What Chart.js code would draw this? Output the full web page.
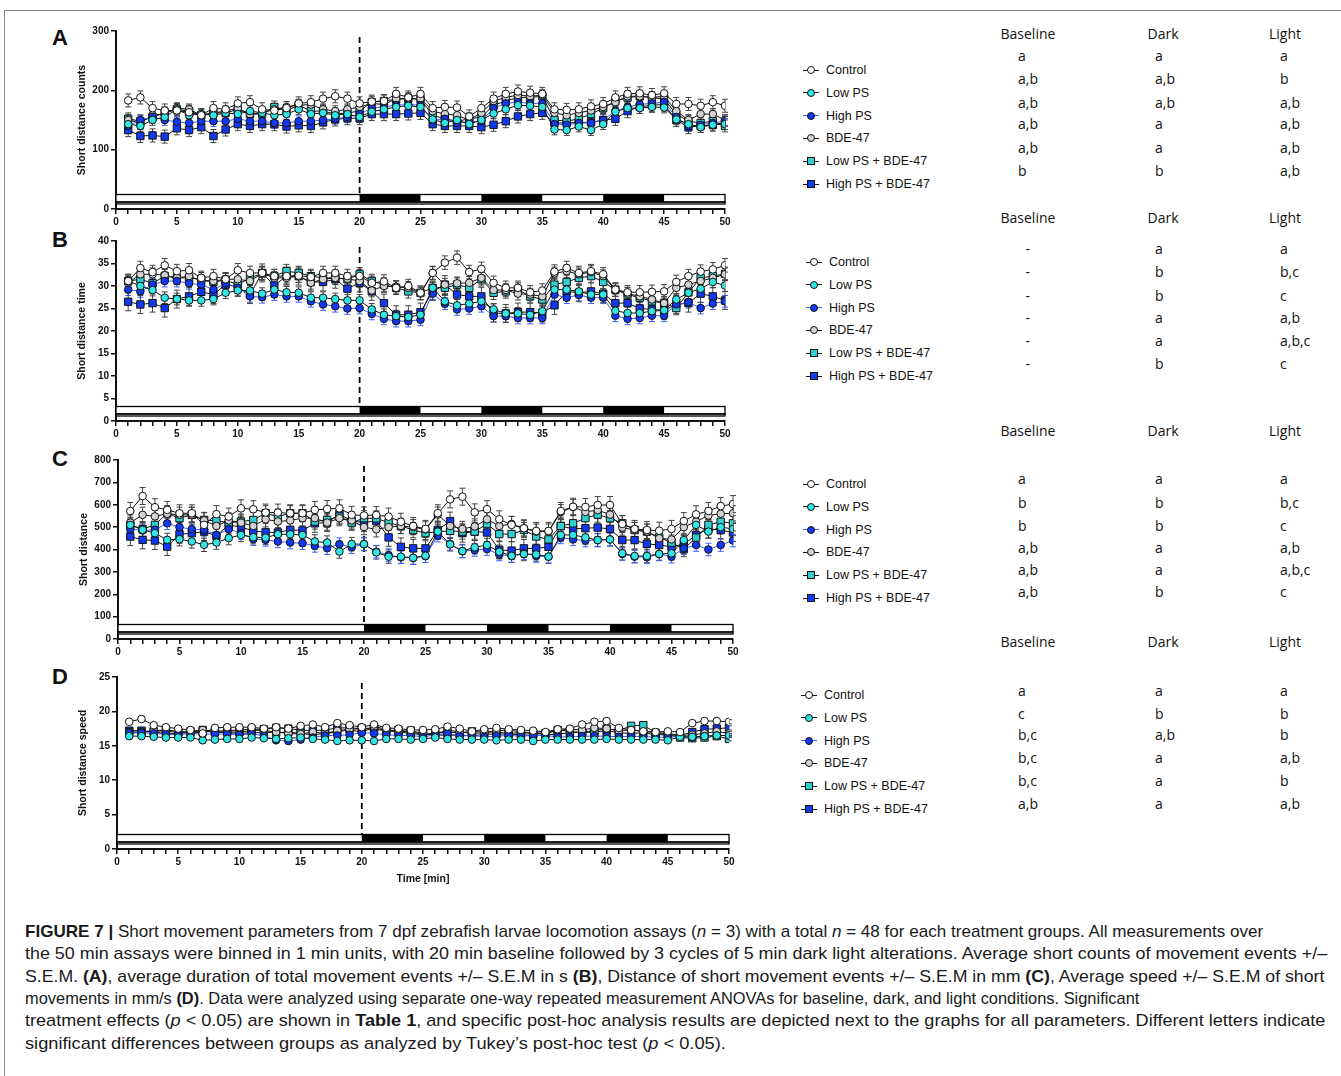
<!DOCTYPE html>
<html>
<head>
<meta charset="utf-8">
<script src="https://cdn.jsdelivr.net/npm/chart.js@4.4.1/dist/chart.umd.min.js"></script>
<style>
  html, body { margin: 0; padding: 0; background: #fff; }
  body { width: 1341px; height: 1076px; position: relative; overflow: hidden; font-family: "Liberation Sans", Arial, sans-serif; color: #111; }
  #frame { position: absolute; left: 4px; top: 10px; right: -2px; bottom: -2px; border-top: 1.5px solid #8a8a8a; border-left: 1.5px solid #8a8a8a; }
  canvas { position: absolute; }
  .plabel { position: absolute; font: bold 22px "Liberation Sans", Arial, sans-serif; line-height: 22px; }
  .legrow { position: absolute; font: 12.5px "Liberation Sans", Arial, sans-serif; line-height: 14px; height: 14px; white-space: nowrap; }
  .icon { position: relative; display: inline-block; width: 16px; height: 14px; vertical-align: top; margin-right: 7px; }
  .ln { position: absolute; left: 0; top: 6.5px; width: 16px; height: 1px; }
  .mk { position: absolute; left: 4px; top: 3px; width: 6px; height: 6px; border: 1px solid #111; }
  .tab { position: absolute; font: 14px "Open Sans", sans-serif; line-height: 18px; white-space: nowrap; }
  .cap { position: absolute; left: 25px; font: 17px "Liberation Sans", Arial, sans-serif; line-height: 20px; white-space: nowrap; transform-origin: 0 50%; color: #1a1a1a; }
</style>
</head>
<body>
<div id="frame"></div>

<canvas id="chartA" width="665" height="210" style="left:72px;top:21px"></canvas>
<canvas id="chartB" width="665" height="212" style="left:72px;top:231px"></canvas>
<canvas id="chartC" width="671" height="211" style="left:74px;top:450px"></canvas>
<canvas id="chartD" width="668" height="222" style="left:73px;top:667px"></canvas>

<div class="plabel" style="left:52px;top:27px">A</div>
<div class="plabel" style="left:52px;top:229px">B</div>
<div class="plabel" style="left:52px;top:448px">C</div>
<div class="plabel" style="left:52px;top:666px">D</div>

<div id="caption">
  <div class="cap" data-right="1263" style="top:922px"><b>FIGURE 7 |</b> Short movement parameters from 7 dpf zebrafish larvae locomotion assays (<i>n</i> = 3) with a total <i>n</i> = 48 for each treatment groups. All measurements over</div>
  <div class="cap" data-right="1327" style="top:944px">the 50 min assays were binned in 1 min units, with 20 min baseline followed by 3 cycles of 5 min dark light alterations. Average short counts of movement events +/–</div>
  <div class="cap" data-right="1324" style="top:967px">S.E.M. <b>(A)</b>, average duration of total movement events +/– S.E.M in s <b>(B)</b>, Distance of short movement events +/– S.E.M in mm <b>(C)</b>, Average speed +/– S.E.M of short</div>
  <div class="cap" data-right="1139" style="top:989px">movements in mm/s <b>(D)</b>. Data were analyzed using separate one-way repeated measurement ANOVAs for baseline, dark, and light conditions. Significant</div>
  <div class="cap" data-right="1325" style="top:1011px">treatment effects (<i>p</i> &lt; 0.05) are shown in <b>Table 1</b>, and specific post-hoc analysis results are depicted next to the graphs for all parameters. Different letters indicate</div>
  <div class="cap" data-right="726" style="top:1034px">significant differences between groups as analyzed by Tukey’s post-hoc test (<i>p</i> &lt; 0.05).</div>
</div>

<script>
// time bins (min)
const minutes = [1,2,3,4,5,6,7,8,9,10,11,12,13,14,15,16,17,18,19,20,21,22,23,24,25,
                 26,27,28,29,30,31,32,33,34,35,36,37,38,39,40,41,42,43,44,45,46,47,48,49,50];
const darkPeriods = [[20, 25], [30, 35], [40, 45]];

const groupNames = ['Control', 'Low PS', 'High PS', 'BDE-47', 'Low PS + BDE-47', 'High PS + BDE-47'];

// A - short distance counts
const aControl = [183,188,170,166,166,163,158,170,168,178,180,168,166,170,178,180,186,190,186,178, 181,182,194,188,194, 170,172,171,156,170, 186,194,198,196,194, 168,167,168,173,177, 188,194,195,192,195, 177,177,174,180,174];
const aLow     = [143,140,150,155,168,158,160,158,162,160,165,162,158,160,168,160,162,158,160,155, 164,168,172,174,172, 151,145,150,143,150, 161,168,175,174,172, 134,133,139,133,143, 164,170,170,172,171, 151,143,138,142,143];
const aHigh    = [140,150,155,150,147,145,148,148,148,152,148,148,145,145,148,148,150,152,155,160, 170,172,175,176,175, 150,152,145,147,148, 170,178,180,178,178, 143,142,145,145,150, 165,172,176,178,180, 155,140,142,145,148];
const aBde     = [150,145,158,160,170,168,158,162,165,170,160,162,168,172,175,176,168,165,168,172, 178,176,186,186,186, 165,160,158,150,162, 182,188,192,190,192, 162,158,162,166,172, 180,190,190,188,190, 165,150,160,160,150];
const aLowBde  = [152,148,155,162,168,165,158,162,162,168,160,160,172,166,175,165,165,160,162,165, 180,182,185,186,185, 158,152,148,152,155, 175,182,188,188,190, 150,148,152,160,170, 182,188,190,188,185, 160,148,145,148,140];
const aHighBde = [133,123,124,122,136,133,138,123,134,143,140,143,143,139,141,140,146,151,153,153, 160,160,160,161,162, 143,140,140,140,138, 142,148,156,160,162, 145,145,146,146,150, 152,165,172,175,176, 150,138,140,142,145];
const aSem     = [11, 9, 9, 9, 10, 11];

// B - short distance time
const bControl = [31.1,34.0,33.1,34.6,33.3,33.5,31.8,32.2,31.5,33.5,32.9,32.9,32.2,32.2,32.3,32.0,32.9,32.9,32.2,32.2, 30.7,31.0,29.6,30.0,28.5, 32.9,35.2,36.3,33.1,33.8, 30.7,29.6,29.6,28.6,29.0, 33.2,34.0,32.9,33.3,32.6, 29.2,28.6,28.6,28.7,28.8, 30.9,32.2,33.2,33.7,34.6];
const bLow     = [31.1,30.0,29.1,27.4,27.1,26.8,26.8,27.1,28.5,29.0,29.0,28.3,29.2,28.6,28.5,27.4,27.4,27.1,26.8,26.8, 24.8,23.6,23.3,23.1,23.6, 29.6,26.6,25.7,26.1,26.6, 24.8,23.9,23.9,23.6,24.4, 29.2,29.2,28.8,28.1,28.1, 24.5,24.0,24.0,24.4,24.6, 27.0,28.5,29.4,30.9,30.1];
const bHigh    = [29.2,28.8,30.3,31.1,31.1,30.6,30.3,29.2,30.6,29.6,27.7,27.5,28.1,27.7,27.7,26.6,25.9,25.5,25.0,25.1, 23.8,22.7,22.2,22.2,22.5, 28.3,26.1,24.8,25.0,25.5, 23.3,23.3,22.9,22.9,22.9, 28.1,27.4,28.0,27.4,27.4, 23.4,22.7,22.9,23.4,23.4, 25.9,26.4,25.1,26.1,26.6];
const bBde     = [30.7,32.6,32.6,32.4,31.8,32.2,31.1,31.1,31.5,31.5,31.1,32.8,31.8,31.8,32.2,30.7,31.5,31.8,31.6,31.1, 29.0,30.0,29.8,29.6,28.3, 32.9,30.3,30.6,30.7,31.8, 29.1,29.1,28.3,28.1,27.7, 32.8,33.3,32.6,33.1,32.2, 29.1,28.3,27.7,27.0,26.2, 29.6,30.3,31.1,31.8,32.6];
const bLowBde  = [31.1,31.5,30.6,32.2,31.8,31.8,31.5,30.9,31.3,30.3,31.8,32.8,32.2,33.3,32.9,32.2,31.8,31.8,31.5,32.6, 31.1,30.3,29.6,28.8,28.5, 29.6,29.6,30.3,29.6,31.5, 28.5,28.8,29.2,27.7,27.0, 30.3,30.9,31.8,32.2,30.9, 29.2,28.1,27.4,26.6,26.2, 25.1,28.6,31.8,32.2,32.7];
const bHighBde = [26.5,25.9,26.2,25.1,27.1,27.7,28.7,28.1,30.3,29.8,28.1,32.9,30.1,32.2,32.2,30.9,30.9,31.5,29.4,30.7, 28.8,26.2,23.6,23.6,24.2, 28.8,30.3,28.1,27.7,27.7, 24.0,23.9,24.2,24.2,24.0, 25.7,28.8,28.5,28.8,28.3, 26.2,26.2,25.0,24.8,24.6, 25.9,26.2,28.3,27.7,26.8];
const bSem     = [1.5, 1.3, 1.3, 1.4, 1.5, 2.0];

// C - short distance
const cControl = [572,639,589,577,562,562,510,558,547,584,580,565,565,562,562,577,581,584,555,552, 554,547,524,505,492, 562,624,636,566,580, 535,510,495,483,483, 572,591,590,599,599, 514,492,487,484,492, 527,557,572,594,603];
const cLow     = [510,488,473,443,446,436,421,431,451,465,455,453,468,468,465,436,431,391,424,424, 387,368,368,363,372, 480,423,393,410,420, 390,372,380,378,368, 465,465,454,442,445, 383,371,371,380,383, 442,510,480,500,492];
const cHigh    = [491,485,488,517,500,491,488,465,491,473,446,443,436,431,428,416,406,424,410,424, 390,375,365,362,370, 462,425,392,398,402, 378,371,383,371,368, 454,445,440,442,445, 380,368,365,380,368, 405,420,400,420,440];
const cBde     = [520,555,548,560,555,555,530,505,530,520,505,535,525,530,540,540,520,540,530,500, 490,500,505,500,490, 556,505,492,503,535, 505,514,495,480,480, 567,590,568,576,556, 498,487,480,450,445, 500,525,552,560,562];
const cLowBde  = [510,491,510,562,540,555,532,528,520,525,532,562,547,562,562,525,532,547,520,540, 539,520,505,487,473, 480,483,480,480,514, 469,469,487,458,445, 505,517,540,556,540, 517,487,480,454,431, 402,453,510,524,517];
const cHighBde = [458,443,440,413,468,473,480,461,510,500,483,477,476,488,485,517,520,558,528,520, 529,454,412,405,405, 487,527,473,480,476, 398,395,405,405,412, 505,492,495,498,492, 442,442,425,420,412, 423,465,492,487,476];
const cSem     = [38, 30, 28, 34, 34, 40];

// D - short distance speed
const dControl = [18.5,18.9,18.0,17.7,17.5,17.3,16.8,17.6,17.7,17.7,17.7,17.5,17.7,17.5,17.9,18.1,17.7,18.3,18.0,17.7, 18.1,17.6,17.5,17.3,17.3, 17.4,17.8,17.5,17.1,17.4, 17.6,17.4,17.3,17.2,17.0, 17.4,17.5,18.1,18.5,18.6, 17.6,17.3,17.1,17.0,17.1, 17.0,18.3,18.6,18.6,18.5];
const dLow     = [16.4,16.4,16.3,16.2,16.2,16.2,15.8,15.9,16.0,16.0,16.2,16.1,16.0,16.1,16.2,16.0,15.9,15.7,15.8,15.8, 15.7,16.0,16.0,15.9,16.0, 16.2,16.0,15.9,15.9,15.9, 15.8,15.9,15.9,15.7,15.9, 15.9,15.9,15.9,15.9,16.0, 15.9,15.9,15.9,15.9,15.8, 16.3,16.3,16.4,16.5,16.5];
const dHigh    = [16.9,16.9,16.8,16.7,16.6,16.8,16.7,16.7,16.7,16.6,16.7,16.5,15.8,15.7,15.9,16.2,16.5,16.5,16.6,16.9, 16.8,16.6,16.5,16.5,16.3, 16.6,16.8,16.4,16.5,16.3, 16.4,16.5,16.4,16.5,16.5, 16.3,16.3,16.4,16.4,16.4, 16.3,16.4,16.3,16.3,16.2, 16.4,16.2,16.4,16.5,16.5];
const dBde     = [16.8,17.0,17.2,17.3,17.1,17.0,17.3,17.0,16.9,16.8,16.9,16.9,17.0,16.8,16.7,17.0,16.8,17.2,17.4,16.9, 17.8,17.4,17.0,16.8,16.6, 16.7,17.3,17.0,16.8,16.9, 17.2,17.3,17.0,16.9,16.8, 17.2,17.4,17.3,17.6,17.5, 17.2,17.3,17.1,16.9,16.8, 16.5,16.6,16.8,17.1,16.8];
const dLowBde  = [17.0,17.0,17.1,17.2,16.9,17.1,17.3,17.0,17.0,17.0,17.2,17.3,16.9,17.0,16.8,16.6,16.8,17.0,17.4,17.5, 17.6,17.2,17.0,17.2,16.8, 16.6,16.5,16.6,16.4,16.7, 16.7,16.7,16.6,16.5,16.6, 16.7,16.9,17.0,17.2,17.5, 17.2,17.9,18.0,16.9,16.6, 16.2,16.1,16.2,16.4,16.0];
const dHighBde = [17.2,17.2,17.0,16.8,16.8,16.9,17.0,17.1,17.2,17.3,17.4,17.4,17.6,17.5,17.3,17.2,17.3,17.6,17.6,17.5, 17.4,17.2,17.3,17.0,16.7, 16.8,17.0,16.9,17.1,17.0, 17.0,16.8,16.9,16.8,16.8, 17.3,17.1,16.9,17.0,17.2, 16.9,16.8,16.9,16.6,16.6, 16.5,17.0,17.4,17.5,17.6];
const dSem     = [0.3, 0.25, 0.25, 0.3, 0.3, 0.3];

// post-hoc letters (rows follow groupNames)
const aBaseline = ['a', 'a,b', 'a,b', 'a,b', 'a,b', 'b'];
const aDark     = ['a', 'a,b', 'a,b', 'a', 'a', 'b'];
const aLight    = ['a', 'b', 'a,b', 'a,b', 'a,b', 'a,b'];
const bBaseline = ['-', '-', '-', '-', '-', '-'];
const bDark     = ['a', 'b', 'b', 'a', 'a', 'b'];
const bLight    = ['a', 'b,c', 'c', 'a,b', 'a,b,c', 'c'];
const cBaseline = ['a', 'b', 'b', 'a,b', 'a,b', 'a,b'];
const cDark     = ['a', 'b', 'b', 'a', 'a', 'b'];
const cLight    = ['a', 'b,c', 'c', 'a,b', 'a,b,c', 'c'];
const dBaseline = ['a', 'c', 'b,c', 'b,c', 'b,c', 'a,b'];
const dDark     = ['a', 'b', 'a,b', 'a', 'a', 'a'];
const dLight    = ['a', 'b', 'b', 'a,b', 'b', 'a,b'];

// look of each group
const CYAN = '#33e6e6', BLUE = '#1238f0';
const styles = [
  { fill: '#ffffff', line: '#111111', err: '#444', shape: 'circle' },
  { fill: CYAN,      line: '#111111', err: '#444', shape: 'circle' },
  { fill: BLUE,      line: '#3d5fff', err: '#3d5fff', shape: 'circle' },
  { fill: '#d2d2d2', line: '#111111', err: '#444', shape: 'circle' },
  { fill: '#2fcfcf', line: '#111111', err: '#444', shape: 'rect' },
  { fill: BLUE,      line: '#111111', err: '#444', shape: 'rect' }
];

Chart.defaults.font.family = '"Liberation Sans", Arial, sans-serif';
Chart.defaults.color = '#111';

// error bars, light/dark bar and the dashed line at 20 min
const extras = {
  id: 'extras',
  beforeDatasetsDraw(chart) {
    const ctx = chart.ctx, x = chart.scales.x, y = chart.scales.y, area = chart.chartArea;
    ctx.save();
    // light / dark bar
    const top = area.bottom - 14.5, mid = area.bottom - 7, bot = area.bottom - 5;
    const x0 = x.getPixelForValue(0), x1 = x.getPixelForValue(50);
    ctx.fillStyle = '#fff';
    ctx.fillRect(x0, top, x1 - x0, bot - top);
    ctx.fillStyle = '#000';
    darkPeriods.forEach(p => {
      const a = x.getPixelForValue(p[0]), b = x.getPixelForValue(p[1]);
      ctx.fillRect(a, top, b - a, mid - top);
    });
    ctx.strokeStyle = '#000';
    ctx.lineWidth = 1.3;
    ctx.strokeRect(x0, top, x1 - x0, mid - top);
    ctx.strokeRect(x0, mid, x1 - x0, bot - mid);
    // dashed line at the end of baseline
    ctx.setLineDash([6, 4]);
    ctx.lineWidth = 1.8;
    ctx.beginPath();
    const xd = x.getPixelForValue(20);
    ctx.moveTo(xd, area.top + 6);
    ctx.lineTo(xd, top);
    ctx.stroke();
    ctx.setLineDash([]);
    // error bars
    ctx.lineWidth = 1;
    chart.data.datasets.forEach(ds => {
      ctx.strokeStyle = ds.errColor;
      ds.data.forEach(pt => {
        const px = x.getPixelForValue(pt.x);
        const hi = y.getPixelForValue(pt.y + ds.sem), lo = y.getPixelForValue(pt.y - ds.sem);
        ctx.beginPath();
        ctx.moveTo(px, hi); ctx.lineTo(px, lo);
        ctx.moveTo(px - 3, hi); ctx.lineTo(px + 3, hi);
        ctx.moveTo(px - 3, lo); ctx.lineTo(px + 3, lo);
        ctx.stroke();
      });
    });
    ctx.restore();
  }
};

function makeChart(id, series, sem, yMax, yStep, yTitle, xTitle, xHeight) {
  const datasets = series.map((vals, i) => ({
    label: groupNames[i],
    data: vals.map((v, j) => ({ x: minutes[j], y: v })),
    sem: sem[i],
    errColor: styles[i].err,
    borderColor: styles[i].line,
    borderWidth: 1,
    backgroundColor: styles[i].fill,
    pointBackgroundColor: styles[i].fill,
    pointBorderColor: '#111',
    pointBorderWidth: 1,
    pointStyle: styles[i].shape,
    pointRadius: styles[i].shape === 'rect' ? 5.2 : 3.8,
    tension: 0
  }));
  const tickFont = { size: 10, weight: 'bold' };
  return new Chart(document.getElementById(id), {
    type: 'line',
    data: { datasets },
    plugins: [extras],
    options: {
      responsive: false,
      animation: false,
      devicePixelRatio: 1,
      layout: { padding: { top: 10, right: 12, left: 0, bottom: 0 } },
      plugins: { legend: { display: false }, tooltip: { enabled: false } },
      scales: {
        x: {
          type: 'linear', min: 0, max: 50,
          ticks: { stepSize: 1, autoSkip: false, maxRotation: 0, padding: 2, font: tickFont, color: '#111',
                   callback: v => (v % 5 === 0 ? v : '') },
          grid: { drawOnChartArea: false, drawTicks: true, tickLength: 5, color: '#111', lineWidth: 1.5 },
          border: { display: true, color: '#111', width: 2 },
          title: { display: !!xTitle, text: xTitle, font: { size: 10.5, weight: 'bold' }, color: '#111', padding: { top: 4, bottom: 4 } },
          afterFit: s => { s.height = xHeight; }
        },
        y: {
          min: 0, max: yMax,
          ticks: { stepSize: yStep, padding: 2, font: tickFont, color: '#111' },
          grid: { drawOnChartArea: false, drawTicks: true, tickLength: 5, color: '#111', lineWidth: 1.5 },
          border: { display: true, color: '#111', width: 2 },
          title: { display: true, text: yTitle, font: { size: 10.5, weight: 'bold' }, color: '#111', padding: { top: 4, bottom: 4 } },
          afterFit: s => { s.width = 44; }
        }
      }
    }
  });
}

makeChart('chartA', [aControl, aLow, aHigh, aBde, aLowBde, aHighBde], aSem, 300, 100, 'Short distance counts', '', 22);
makeChart('chartB', [bControl, bLow, bHigh, bBde, bLowBde, bHighBde], bSem, 40, 5, 'Short distance time', '', 22);
makeChart('chartC', [cControl, cLow, cHigh, cBde, cLowBde, cHighBde], cSem, 800, 100, 'Short distance', '', 22);
makeChart('chartD', [dControl, dLow, dHigh, dBde, dLowBde, dHighBde], dSem, 25, 5, 'Short distance speed', 'Time [min]', 40);

// legends
const legendPos = [[803, 70], [806, 262], [803, 484], [801, 695]];
legendPos.forEach(([lx, ly]) => {
  groupNames.forEach((name, i) => {
    const row = document.createElement('div');
    row.className = 'legrow';
    row.style.left = lx + 'px';
    row.style.top = (ly + i * 22.8 - 7) + 'px';
    const s = styles[i];
    row.innerHTML = '<span class="icon"><span class="ln" style="background:' + s.line + '"></span>' +
      '<span class="mk" style="background:' + s.fill + ';border-radius:' + (s.shape === 'circle' ? '50%' : '0') + '"></span></span>' + name;
    document.body.appendChild(row);
  });
});

// post-hoc letter tables
const tables = [
  { head: 34,  rows: [57, 80, 104, 125, 149, 172], cols: [aBaseline, aDark, aLight] },
  { head: 218, rows: [250, 273, 297, 319, 342, 365], cols: [bBaseline, bDark, bLight] },
  { head: 431, rows: [480, 504, 527, 549, 571, 593], cols: [cBaseline, cDark, cLight] },
  { head: 642, rows: [692, 715, 736, 759, 782, 805], cols: [dBaseline, dDark, dLight] }
];
const colHeads = ['Baseline', 'Dark', 'Light'];
const colCenter = [1028, 1163, 1285];
const colLeft = [1018, 1155, 1280];
tables.forEach(t => {
  colHeads.forEach((h, c) => {
    const el = document.createElement('div');
    el.className = 'tab';
    el.textContent = h;
    el.style.top = (t.head - 9) + 'px';
    document.body.appendChild(el);
    el.style.left = (colCenter[c] - el.offsetWidth / 2) + 'px';
    t.cols[c].forEach((txt, r) => {
      const cell = document.createElement('div');
      cell.className = 'tab';
      cell.textContent = txt;
      cell.style.top = (t.rows[r] - 10) + 'px';
      document.body.appendChild(cell);
      cell.style.left = (txt === '-' ? colCenter[c] - cell.offsetWidth / 2 : colLeft[c]) + 'px';
    });
  });
});

// fit caption lines to the original line lengths
document.querySelectorAll('.cap').forEach(el => {
  const target = +el.dataset.right - 25;
  el.style.transform = 'scaleX(' + (target / el.scrollWidth) + ')';
});
</script>
</body>
</html>
